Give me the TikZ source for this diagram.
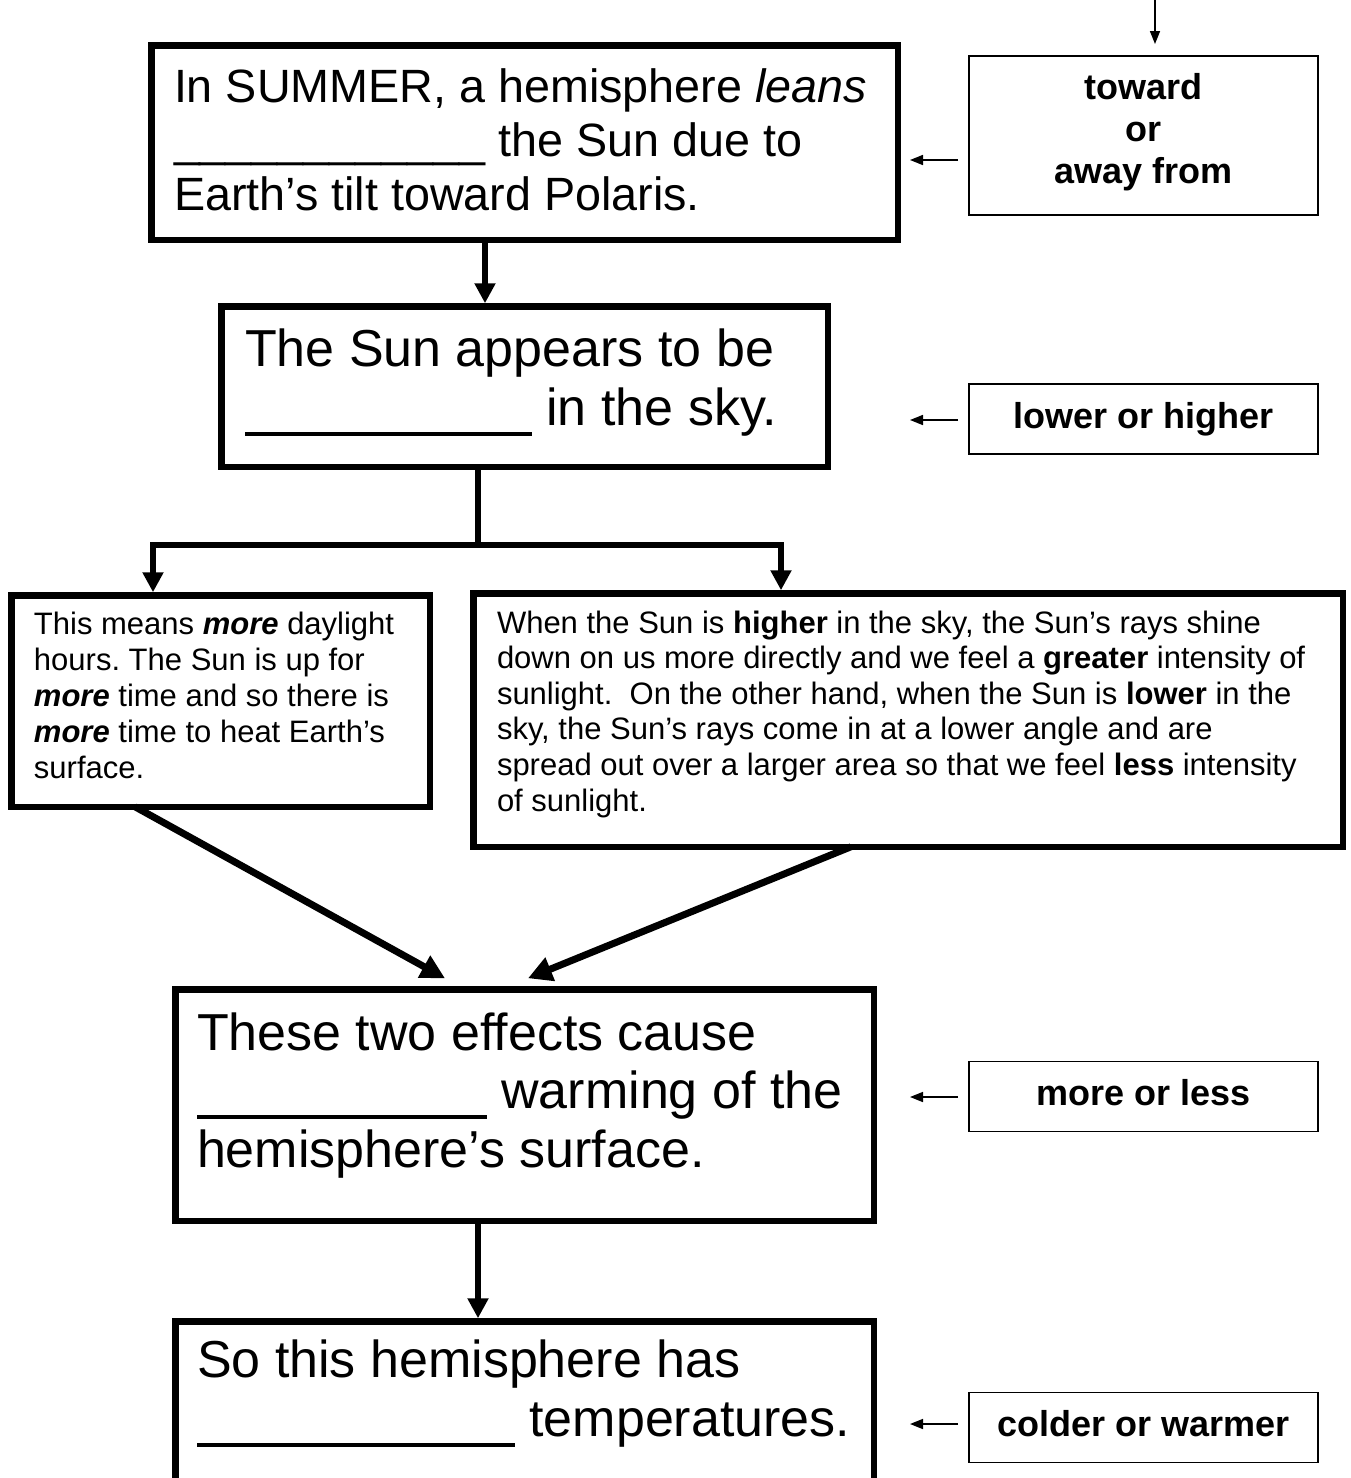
\documentclass[tikz,border=0pt]{standalone}
\usepackage{fontspec}
\setmainfont{Liberation Sans}
\usetikzlibrary{arrows.meta}
\newcommand{\tstrut}[1]{\rule{0pt}{#1}}
\frenchspacing
\begin{document}
\begin{tikzpicture}[x=1pt,y=-1pt,
  bigbox/.style={draw, line width=6.5pt, inner sep=0pt, outer sep=0pt},
  sidebox/.style={draw, line width=1.6pt, inner sep=0pt, outer sep=0pt,
    font=\fontsize{36pt}{42pt}\selectfont\bfseries, align=center,
    minimum width=349.5pt},
  onebox/.style={sidebox, text height=25pt, text depth=7pt, minimum height=70pt},
  txt/.style={anchor=north west, inner sep=0pt, outer sep=0pt, align=left},
  flow/.style={line width=6pt, -{Triangle[length=20pt,width=20pt]}, shorten >=3pt},
  trunk/.style={line width=6pt},
  diag/.style={line width=7pt, -{Triangle[length=24pt,width=24pt]}},
  ptr/.style={line width=1.6pt, -{Triangle[length=13pt,width=10pt]}}
]
\useasboundingbox (0,0) rectangle (1350,1478);
\fill[white] (0,0) rectangle (1350,1478);
\clip (0,0) rectangle (1350,1478);

% main boxes
\node[bigbox, minimum width=746.5pt, minimum height=194.5pt] (b1) at (524.5,142.5) {};
\node[bigbox, minimum width=606.5pt, minimum height=160.5pt] (b2) at (524.5,386.5) {};
\node[bigbox, minimum width=418.5pt, minimum height=211.5pt] (b3) at (220.5,701) {};
\node[bigbox, minimum width=869.5pt, minimum height=253.5pt] (b4) at (908,720) {};
\node[bigbox, minimum width=698.5pt, minimum height=231.5pt] (b5) at (524.5,1105) {};
\node[bigbox, minimum width=698.5pt, minimum height=175.5pt] (b6) at (524.5,1409) {};

% texts
\node[txt, font=\fontsize{46.7pt}{54pt}\selectfont] (t1) at (174,52)
  {\tstrut{50pt}In SUMMER, a hemisphere \textit{leans}\\
   \_\_\_\_\_\_\_\_\_\_\_\_ the Sun due to\\
   Earth’s tilt toward Polaris.};
\node[txt, font=\fontsize{52pt}{59pt}\selectfont] (t2) at (245,316)
  {\tstrut{50pt}The Sun appears to be\\
   \rule[-10.5pt]{287pt}{4pt} in the sky.};
\node[txt, font=\fontsize{31pt}{36pt}\selectfont] (t3) at (34,604)
  {\tstrut{30pt}This means \textbf{\textit{more}} daylight\\
   hours. The Sun is up for\\
   \textbf{\textit{more}} time and so there is\\
   \textbf{\textit{more}} time to heat Earth’s\\
   surface.};
\node[txt, font=\fontsize{31pt}{35.6pt}\selectfont] (t4) at (497,603)
  {\tstrut{30pt}When the Sun is \textbf{higher} in the sky, the Sun’s rays shine\\
   down on us more directly and we feel a \textbf{greater} intensity of\\
   sunlight.\ \ On the other hand, when the Sun is \textbf{lower} in the\\
   sky, the Sun’s rays come in at a lower angle and are\\
   spread out over a larger area so that we feel \textbf{less} intensity\\
   of sunlight.};
\node[txt, font=\fontsize{52pt}{58.8pt}\selectfont] (t5) at (197,1000)
  {\tstrut{50pt}These two effects cause\\
   \rule[-10.5pt]{290pt}{4pt} warming of the\\
   hemisphere’s surface.};
\node[txt, font=\fontsize{52pt}{59pt}\selectfont] (t6) at (197,1327)
  {\tstrut{50pt}So this hemisphere has\\
   \rule[-10.5pt]{318pt}{4pt} temperatures.};

% side boxes
\node[sidebox, minimum height=159.5pt] (sA) at (1143.5,135.5)
  {toward\\or\\away from\rule[-14pt]{0pt}{14pt}};
\node[onebox] (sB) at (1143.5,419) {lower or higher};
\node[onebox] (sC) at (1143.5,1096.5) {more or less};
\node[onebox] (sD) at (1143.5,1427.5) {colder or warmer};

% flow connectors
\coordinate (j1) at (485,0);
\draw[flow] (b1.south -| j1) -- (b2.north -| j1);
\coordinate (sp) at (478,545);
\coordinate (lt) at (153,545);
\coordinate (rt) at (781,545);
\draw[trunk] (b2.south -| sp) -- (sp);
\draw[flow] (sp) -- (lt) -- (b3.north -| lt);
\draw[flow] (sp) -- (rt) -- (b4.north -| rt);
\draw[diag] ([xshift=-85.5pt]b3.south) -- ([xshift=-79.5pt,yshift=11pt]b5.north);
\draw[diag] ([xshift=-57pt]b4.south) -- ([xshift=3.5pt,yshift=11pt]b5.north);
\coordinate (j3) at (478,0);
\draw[flow] (b5.south -| j3) -- (b6.north -| j3);

% pointers from side boxes
\coordinate (topin) at (1155,-2);
\draw[ptr, shorten >=11.75pt] (topin) -- (topin |- sA.north);
\draw[ptr] ([xshift=-10.75pt,yshift=-24.5pt]sA.west) -- ([xshift=-58.75pt,yshift=-24.5pt]sA.west);
\draw[ptr] ([xshift=-10.75pt,yshift=-1pt]sB.west) -- ([xshift=-58.75pt,yshift=-1pt]sB.west);
\draw[ptr] ([xshift=-10.75pt,yshift=-0.5pt]sC.west) -- ([xshift=-58.75pt,yshift=-0.5pt]sC.west);
\draw[ptr] ([xshift=-10.75pt,yshift=3.5pt]sD.west) -- ([xshift=-58.75pt,yshift=3.5pt]sD.west);
\end{tikzpicture}
\end{document}
